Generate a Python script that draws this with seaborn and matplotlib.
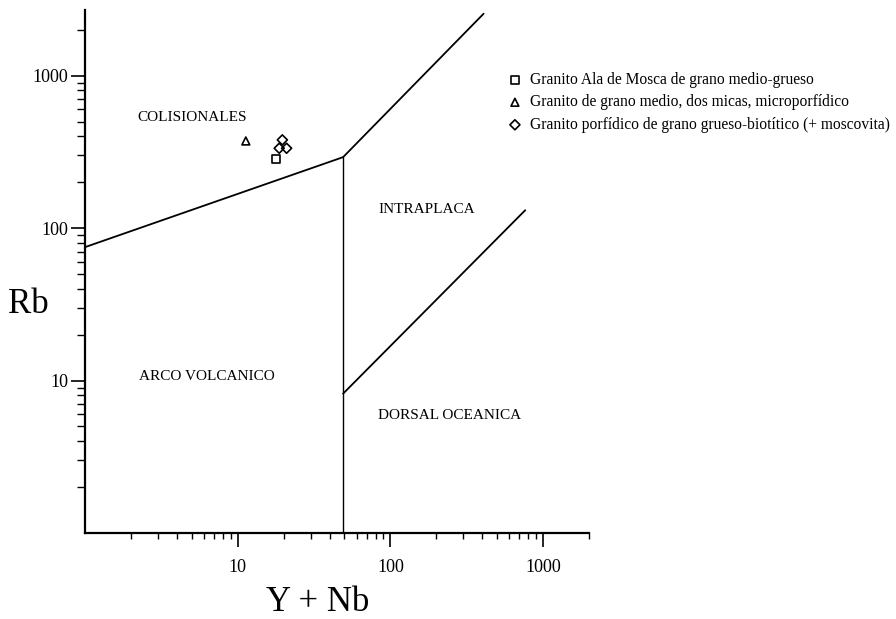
import matplotlib
matplotlib.use("Agg")
import matplotlib.pyplot as plt
import matplotlib.ticker as mticker
import seaborn as sns

# Datos del diagrama Rb vs (Y + Nb)

# limites de campos (Pearce et al.)
colg_vag_x = [1, 49]
colg_vag_y = [75, 292]
colg_wpg_x = [49, 408]
colg_wpg_y = [292, 2550]
vag_wpg_x = [49, 49]
vag_wpg_y = [1, 292]
wpg_org_x = [49, 764]
wpg_org_y = [8.2, 131]

# muestras
ala_mosca_yn = [17.8]
ala_mosca_rb = [283]
dos_micas_yn = [11.3]
dos_micas_rb = [373]
porfidico_yn = [19.6, 18.7, 20.9]
porfidico_rb = [379, 334, 334]

nombres = [
    "Granito Ala de Mosca de grano medio-grueso",
    "Granito de grano medio, dos micas, microporfídico",
    "Granito porfídico de grano grueso-biotítico (+ moscovita)",
]

campos = ["COLISIONALES", "INTRAPLACA", "ARCO VOLCANICO", "DORSAL OCEANICA"]
campos_x = [5.0, 174, 6.3, 245]
campos_y = [535, 133, 10.6, 5.9]

sns.set_style("ticks")
plt.rcParams["font.family"] = ["Liberation Serif", "DejaVu Serif"]
for k in ("text.color", "axes.labelcolor", "xtick.color", "ytick.color", "axes.edgecolor"):
    plt.rcParams[k] = "black"

fig, ax = plt.subplots(figsize=(8.96, 6.19), dpi=100)
fig.subplots_adjust(left=0.0949, right=0.6574, bottom=0.139, top=0.984)

ax.set_xscale("log")
ax.set_yscale("log")

# lineas de los campos
for lx, ly, lw in [(colg_vag_x, colg_vag_y, 1.3), (colg_wpg_x, colg_wpg_y, 1.3),
                   (vag_wpg_x, vag_wpg_y, 1.0), (wpg_org_x, wpg_org_y, 1.3)]:
    sns.lineplot(x=lx, y=ly, ax=ax, color="black", linewidth=lw,
                 sort=False, estimator=None)

# puntos
estilo = dict(facecolor="none", edgecolor="black", linewidth=1.2, s=32, ax=ax)
sns.scatterplot(x=ala_mosca_yn, y=ala_mosca_rb, marker="s", label=nombres[0], **estilo)
sns.scatterplot(x=dos_micas_yn, y=dos_micas_rb, marker="^", label=nombres[1], **estilo)
sns.scatterplot(x=porfidico_yn, y=porfidico_rb, marker="D", label=nombres[2],
                **{**estilo, "s": 26})

for t, tx, ty in zip(campos, campos_x, campos_y):
    ax.text(tx, ty, t, fontsize=11, ha="center", va="center")

ax.set_xlim(1, 2000)
ax.set_ylim(1, 2700)

for eje in (ax.xaxis, ax.yaxis):
    eje.set_major_locator(mticker.FixedLocator([10, 100, 1000]))
    eje.set_major_formatter(mticker.FixedFormatter(["10", "100", "1000"]))
    eje.set_minor_locator(mticker.LogLocator(base=10, subs=range(2, 10), numticks=20))
    eje.set_minor_formatter(mticker.NullFormatter())

ax.tick_params(axis="x", which="major", length=10, width=1.2, pad=9, labelsize=13)
ax.tick_params(axis="x", which="minor", length=4.5, width=1.0)
ax.tick_params(axis="y", which="major", length=10, width=1.2, pad=2, labelsize=13)
ax.tick_params(axis="y", which="minor", length=5.5, width=1.0)

sns.despine(ax=ax)
for s in ("left", "bottom"):
    ax.spines[s].set_linewidth(1.6)

ax.set_xlabel("Y + Nb", fontsize=25, va="center")
ax.xaxis.set_label_coords(0.462, -0.132)
ax.set_ylabel("Rb", fontsize=25, rotation=0, va="center", ha="center")
ax.yaxis.set_label_coords(-0.113, 0.436)

ax.legend(loc="upper left", bbox_to_anchor=(0.566, 0.884), bbox_transform=fig.transFigure,
          frameon=False, fontsize=11.2, handlelength=1.0, handletextpad=0.45,
          borderpad=0, borderaxespad=0, labelspacing=0.42, scatterpoints=1)

fig.savefig("out.png", dpi=100, facecolor="white")
